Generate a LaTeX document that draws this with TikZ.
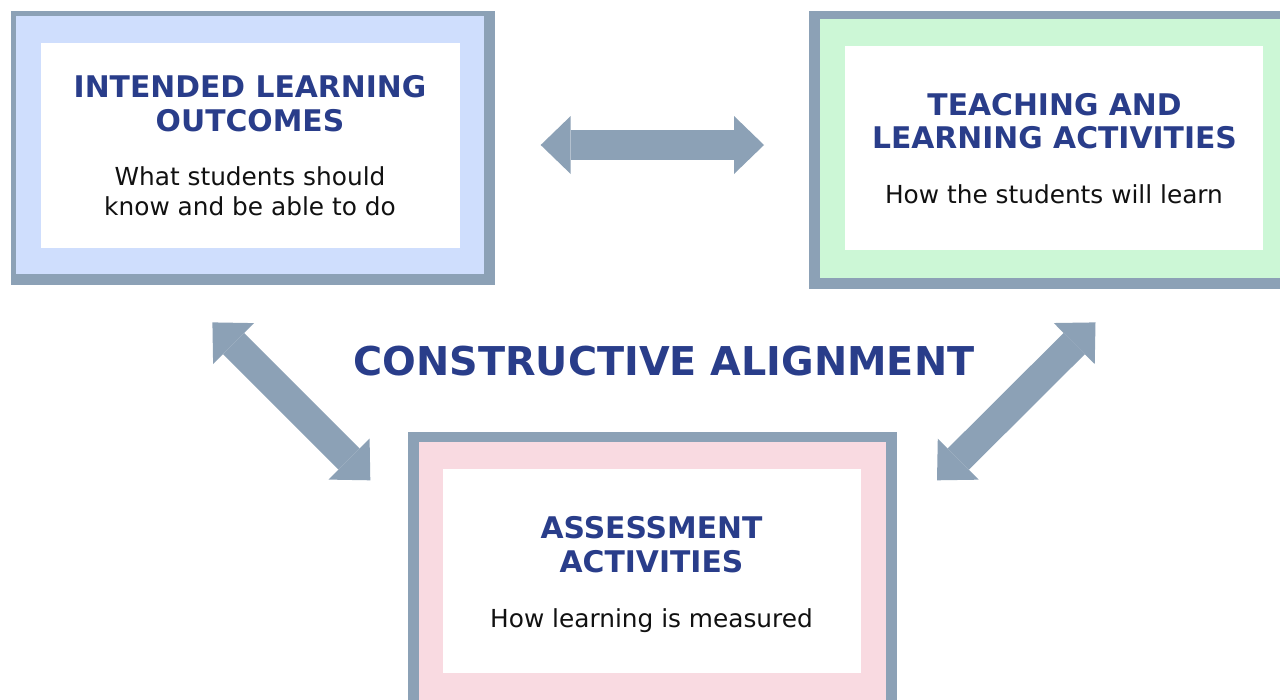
\documentclass[tikz,border=0pt]{standalone}
\usepackage{fontspec}
\setmainfont{DejaVu Sans}
\usetikzlibrary{arrows.meta}

\definecolor{framegray}{RGB}{140,161,182}
\definecolor{ilofill}{RGB}{207,222,253}
\definecolor{tlafill}{RGB}{204,247,214}
\definecolor{atfill}{RGB}{249,218,225}
\definecolor{titleblue}{RGB}{41,61,138}
\definecolor{bodyink}{RGB}{17,17,17}

\begin{document}
\begin{tikzpicture}[x=1pt, y=-1pt,
  frame/.style={fill=framegray},
  panel/.style={fill=white, inner sep=0pt, outer sep=0pt},
  heading/.style={anchor=base, inner sep=0pt, text=titleblue,
    font=\fontsize{29.8}{34}\selectfont\bfseries},
  note/.style={anchor=base, inner sep=0pt, text=bodyink,
    font=\fontsize{24.8}{30}\selectfont},
  banner/.style={anchor=base, inner sep=0pt, text=titleblue,
    font=\fontsize{39.7}{46}\selectfont\bfseries},
  tip/.style={},
  link/.style={draw=framegray, line width=30pt,
    {Triangle[length=30pt,width=58pt,line width=0pt]}-{Triangle[length=30pt,width=58pt,line width=0pt]}}
]
\useasboundingbox (0,0) rectangle (1280,699);
\clip (0,0) rectangle (1280,699);
\fill[white] (0,0) rectangle (1280,699);

% Intended learning outcomes
\fill[frame] (11,11) rectangle (495,285);
\fill[ilofill] (16,16) rectangle (484,274);
\node[panel, minimum width=419pt, minimum height=205pt] (ilo) at (250.5,145.5) {};
\node[heading] (iloA) at (250,97) {INTENDED LEARNING};
\node[heading] (iloB) at (250,131) {OUTCOMES};
\node[note] (iloC) at (250,185) {What students should};
\node[note] (iloD) at (250,215) {know and be able to do};

% Teaching and learning activities
\fill[frame] (809,11) rectangle (1300,289);
\fill[tlafill] (820,19) rectangle (1300,278);
\node[panel, minimum width=418pt, minimum height=204pt] (tla) at (1054,148) {};
\node[heading] (tlaA) at (1054.5,115) {TEACHING AND};
\node[heading] (tlaB) at (1054.5,148.5) {LEARNING ACTIVITIES};
\node[note] (tlaC) at (1054,203) {How the students will learn};

% Assessment activities
\fill[frame] (408,432) rectangle (897,720);
\fill[atfill] (418.5,442) rectangle (886,720);
\node[panel, minimum width=418pt, minimum height=204pt] (at) at (652,571) {};
\node[heading] (atA) at (651.5,538) {ASSESSMENT};
\node[heading] (atB) at (651.5,572) {ACTIVITIES};
\node[note] (atC) at (651.5,627) {How learning is measured};

% Centre caption
\node[banner] (ca) at (664,375) {CONSTRUCTIVE ALIGNMENT};

% Two-way links between the three elements
\coordinate (h1) at (540.7,145);
\coordinate (h2) at (764,145);
\coordinate (l1) at (212.4,322.4);
\coordinate (l2) at (370.3,480.3);
\coordinate (r1) at (1095.5,322.4);
\coordinate (r2) at (937,480.3);
\draw[link] (h1) -- (h2);
\draw[link] (l1) -- (l2);
\draw[link] (r1) -- (r2);
\end{tikzpicture}
\end{document}
